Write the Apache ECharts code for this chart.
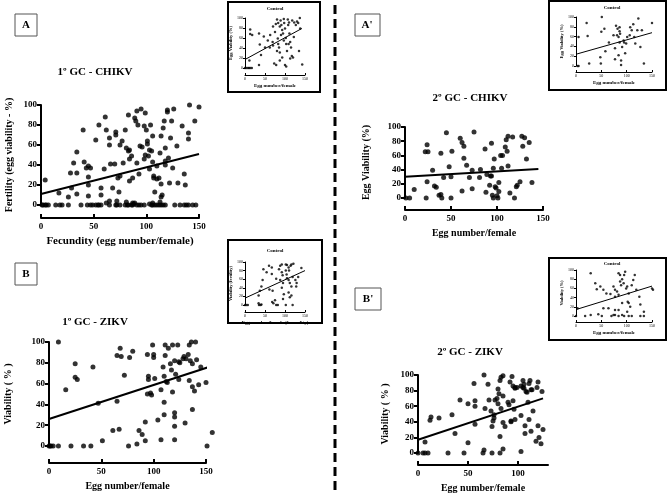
<!DOCTYPE html>
<html><head><meta charset="utf-8">
<script src="https://cdn.jsdelivr.net/npm/echarts@6/dist/echarts.min.js"></script>
<style>html,body{margin:0;padding:0;background:#fff}#c{width:669px;height:493px}</style>
</head><body><div id="c"></div>
<script>
// ---------- DATA ----------
const xTicks150 = [0, 50, 100, 150];
const xTicks100 = [0, 50, 100];

const chikv1Points = [
[1,0],[2,0],[4,0],[5,0],[7,0],[14,0],[18,0],[20,0],[26,0],[38,0],[44,0],[47,0],[49,0],[52,0],[54,0],[55,0],[57,0],[65,0],[71,0],[72,0],[75,0],[80,0],[82,0],[83,0],[86,0],[87,0],[91,0],[93,0],[95,0],[98,0],[105,0],[106,0],[108,0],[110,0],[112,0],[114,0],[116,0],[118,0],[127,0],[132,0],[136,0],[138,0],[140,0],[144,0],[147,0],
[65,4],[72,4],[81,3],[87,2],[89,2],[106,2],[113,3],[114,8],[115,10],[62,2],[88,1],[103,1],
[4,25],[17,12],[26,8],[29,17],[28,32],[31,42],[34,32],[34,53],[34,11],[40,75],[41,43],[43,37],[45,39],[47,37],[45,28],[45,20],[45,9],[52,65],[55,80],[57,17],[57,10],[60,36],[61,88],[62,75],[65,67],[65,60],[66,41],[68,17],[70,41],[71,73],[71,70],[73,27],[74,13],[75,29],[75,60],[77,64],[78,42],[80,75],[81,57],[83,54],[84,55],[83,90],[84,46],[84,24],[86,49],[87,27],[89,87],[90,84],[91,94],[91,42],[92,80],[93,31],[94,59],[95,96],[96,58],[98,79],[98,46],[99,50],[99,92],[100,75],[101,61],[101,64],[102,49],[103,55],[103,36],[104,80],[105,54],[106,69],[106,43],[107,29],[107,27],[108,13],[110,39],[110,26],[112,27],[113,52],[114,69],[114,21],[116,77],[117,84],[118,57],[118,40],[118,44],[120,95],[120,93],[121,47],[122,22],[123,67],[124,84],[125,37],[126,96],[129,59],[130,22],[134,79],[136,31],[137,20],[140,72],[140,66],[141,100],[146,84],[150,98]
];
const chikv1Trend = [[0,11],[150,51]];

const chikv1Control = [
[0,0],[3,0],[7,0],[10,0],[13,0],[17,0],[11,15],[13,77],[13,68],[18,66],[35,69],[40,26],[35,6],[47,63],[63,66],[69,52],[70,45],[75,72],[73,9],[78,6],[80,34],[82,59],[83,48],[85,41],[87,31],[80,97],[83,90],[87,83],[89,95],[91,86],[93,76],[95,69],[90,66],[97,98],[98,90],[100,79],[102,60],[103,48],[105,34],[100,6],[103,3],[107,97],[108,86],[110,91],[111,69],[113,52],[115,41],[117,24],[120,21],[113,19],[118,95],[123,91],[127,86],[130,93],[133,90],[137,100],[138,79],[135,34],[143,7],[122,62],[109,48],[97,55],[77,88],[70,83],[87,15],[57,55],[62,41],[50,41],[37,47],[93,21]
];
const chikv1ControlTrend = [[0,17],[142,79]];

const chikv2Points = [
[1,0],[5,0],[10,12],[23,0],[24,23],[22,65],[25,65],[24,75],[30,39],[32,17],[34,15],[37,4],[39,5],[40,0],[39,63],[42,29],[48,44],[50,30],[50,0],[51,66],[60,84],[62,78],[62,10],[64,73],[64,56],[67,46],[70,29],[73,39],[73,13],[81,29],[82,40],[87,69],[88,8],[89,33],[92,18],[93,31],[94,31],[94,77],[95,4],[96,0],[96,42],[97,55],[98,16],[99,14],[100,3],[101,0],[102,9],[102,22],[104,60],[105,42],[106,60],[109,72],[110,82],[111,66],[112,45],[112,87],[114,7],[117,86],[119,0],[121,16],[122,18],[125,23],[127,87],[128,73],[45,92],[75,93],[130,85],[135,78],[138,22],[132,55]
];
const chikv2Trend = [[0,30],[145,41]];

const chikv2Control = [
[3,0],[5,0],[5,59],[21,88],[23,61],[26,5],[48,18],[49,5],[50,70],[51,100],[56,76],[58,30],[65,48],[77,36],[79,82],[81,63],[82,76],[84,59],[86,48],[86,79],[86,71],[87,66],[89,2],[89,11],[91,39],[94,52],[95,48],[97,26],[99,46],[101,59],[106,63],[107,79],[110,73],[113,85],[115,59],[117,46],[121,73],[123,97],[127,39],[130,73],[134,5],[150,88],[77,14],[84,22],[74,63]
];
const chikv2ControlTrend = [[0,24],[150,68]];

const zikv1Points = [
[0,0],[1,0],[2,0],[4,0],[9,0],[21,0],[33,0],[40,0],[76,0],[9,100],[16,54],[25,79],[25,66],[27,64],[42,76],[47,41],[51,5],[61,15],[65,43],[65,87],[67,16],[68,94],[69,86],[72,68],[77,85],[80,91],[84,2],[86,15],[89,11],[92,23],[92,5],[94,50],[94,88],[95,67],[95,64],[97,51],[98,49],[99,97],[100,88],[100,85],[101,65],[104,25],[107,6],[107,54],[109,76],[110,42],[110,30],[110,67],[111,87],[111,97],[112,62],[113,61],[114,94],[116,79],[117,73],[118,52],[118,97],[120,82],[120,32],[120,6],[120,19],[120,28],[121,69],[123,97],[124,81],[124,64],[125,80],[128,84],[129,86],[130,22],[131,84],[133,88],[134,97],[134,63],[135,82],[136,100],[137,35],[137,79],[137,57],[139,53],[140,100],[141,83],[143,59],[145,76],[150,61],[156,13],[151,0]
];
const zikv1Trend = [[0,26],[156,77]];

const zikv1Control = [
[0,0],[3,0],[7,0],[34,4],[35,0],[39,0],[41,1],[34,22],[37,33],[41,43],[44,58],[46,83],[54,76],[60,91],[67,87],[61,36],[69,33],[68,7],[71,4],[75,11],[78,0],[82,0],[78,61],[85,83],[88,91],[92,94],[92,76],[94,69],[95,14],[97,25],[88,58],[102,94],[105,93],[109,87],[110,80],[114,91],[116,94],[121,96],[102,80],[104,71],[105,62],[109,58],[112,51],[116,43],[119,65],[126,58],[129,51],[128,43],[133,65],[141,86],[109,29],[112,18],[116,22],[119,0],[102,0],[95,51],[92,40],[67,72]
];
const zikv1ControlTrend = [[0,16],[150,80]];

const zikv2Points = [
[0,0],[5,0],[7,0],[10,0],[7,14],[12,42],[13,46],[21,45],[30,0],[34,49],[37,25],[42,68],[46,0],[50,63],[50,13],[56,89],[57,67],[57,60],[57,37],[66,100],[65,0],[66,4],[67,57],[70,88],[71,68],[73,54],[74,34],[74,0],[75,41],[76,45],[76,49],[77,68],[79,70],[80,63],[80,82],[81,76],[82,21],[82,0],[82,93],[83,57],[83,97],[85,73],[85,5],[85,99],[85,39],[87,34],[90,65],[91,62],[93,40],[93,41],[94,98],[95,86],[95,67],[96,56],[97,43],[97,83],[99,84],[103,2],[103,48],[103,86],[105,84],[106,83],[106,88],[107,35],[107,25],[108,79],[109,78],[110,65],[111,43],[112,93],[113,28],[113,81],[114,81],[115,54],[118,15],[92,91],[97,84],[105,93],[111,89],[120,91],[124,79],[119,84],[121,20],[123,12],[125,30],[120,35]
];
const zikv2Trend = [[0,17],[125,70]];

const zikv2Control = [
[0,0],[18,0],[29,2],[44,4],[51,0],[70,0],[74,2],[77,2],[84,0],[91,2],[95,0],[101,9],[104,0],[110,0],[127,0],[134,0],[3,17],[29,93],[38,71],[41,58],[48,64],[54,57],[60,49],[68,48],[74,64],[77,57],[81,53],[77,42],[84,46],[87,75],[89,67],[91,80],[94,71],[95,89],[97,96],[99,60],[101,64],[104,49],[102,31],[104,28],[107,20],[110,67],[113,78],[116,89],[119,57],[125,42],[127,25],[134,9],[150,60],[152,57],[77,13],[84,13],[91,28],[64,17],[54,17],[84,93],[87,89]
];
const zikv2ControlTrend = [[0,14],[150,65]];

// ---------- CHART ----------
const SERIF = 'Liberation Serif';
const chart = echarts.init(document.getElementById('c'), null, {renderer: 'canvas'});

function mainX(gi, max, ticks, name, offset, nameSize) {
  return {
    gridIndex: gi, type: 'value', min: 0, max: max, interval: 50, offset: offset,
    name: name, nameLocation: 'middle', nameGap: 18,
    nameTextStyle: {fontFamily: SERIF, fontWeight: 'bold', fontSize: nameSize, color: '#000'},
    axisLine: {onZero: false, lineStyle: {color: '#000', width: 2}},
    axisTick: {customValues: ticks, length: 4, inside: true, lineStyle: {color: '#000', width: 2}},
    axisLabel: {customValues: ticks, fontFamily: SERIF, fontWeight: 'bold', fontSize: 9, color: '#000', margin: 4},
    splitLine: {show: false}
  };
}
function mainY(gi, name, gap) {
  return {
    gridIndex: gi, type: 'value', min: 0, max: 100, interval: 20,
    name: name, nameLocation: 'middle', nameGap: gap, nameRotate: 90,
    nameTextStyle: {fontFamily: SERIF, fontWeight: 'bold', fontSize: 10, color: '#000'},
    axisLine: {onZero: false, lineStyle: {color: '#000', width: 2}},
    axisTick: {length: 4, lineStyle: {color: '#000', width: 2}},
    axisLabel: {fontFamily: SERIF, fontWeight: 'bold', fontSize: 9, color: '#000', margin: 4},
    splitLine: {show: false}
  };
}
function insetX(gi, name, offset) {
  return {
    gridIndex: gi, type: 'value', min: 0, max: 150, interval: 50, offset: offset,
    name: name, nameLocation: 'middle', nameGap: 8,
    nameTextStyle: {fontFamily: SERIF, fontWeight: 'bold', fontSize: 5, color: '#000'},
    axisLine: {onZero: false, lineStyle: {color: '#000', width: 1}},
    axisTick: {length: 2, inside: true, lineStyle: {color: '#000', width: 1}},
    axisLabel: {fontFamily: SERIF, fontSize: 4, color: '#000', margin: 2},
    splitLine: {show: false}
  };
}
function insetY(gi, name) {
  return {
    gridIndex: gi, type: 'value', min: 0, max: 100, interval: 20,
    name: name, nameLocation: 'middle', nameGap: 9, nameRotate: 90,
    nameTextStyle: {fontFamily: SERIF, fontWeight: 'bold', fontSize: 4.5, color: '#000'},
    axisLine: {onZero: false, lineStyle: {color: '#000', width: 1}},
    axisTick: {length: 2, lineStyle: {color: '#000', width: 1}},
    axisLabel: {fontFamily: SERIF, fontSize: 4, color: '#000', margin: 2},
    splitLine: {show: false}
  };
}
function pts(i, data, size) {
  return {type: 'scatter', xAxisIndex: i, yAxisIndex: i, data: data, symbolSize: size,
    itemStyle: {color: '#000'}, clip: false, silent: true, animation: false};
}
function trend(i, data, w) {
  return {type: 'line', xAxisIndex: i, yAxisIndex: i, data: data, symbol: 'none',
    lineStyle: {color: '#000', width: w}, clip: false, silent: true, animation: false};
}
function grid(l, t, w, h) {
  return {left: l, top: t, width: w, height: h, containLabel: false, outerBoundsMode: 'none'};
}
function label(x, y, txt, size) {
  return {type: 'text', x: x, y: y, style: {text: txt, fontFamily: SERIF, fontWeight: 'bold', fontSize: size, fill: '#000', align: 'center', verticalAlign: 'middle'}};
}
function frame(x, y, w, h, lw, col) {
  return {type: 'rect', shape: {x: x, y: y, width: w, height: h}, style: {fill: 'none', stroke: col, lineWidth: lw}};
}

const option = {
  backgroundColor: '#fff',
  animation: false,
  grid: [
    grid(41, 105, 158, 100),   // 0 A
    grid(405, 127, 138, 71),   // 1 A'
    grid(49, 342, 157, 104),   // 2 B
    grid(418, 375, 130, 78),   // 3 B'
    grid(245, 18, 60, 50),     // 4 inset A
    grid(576, 17, 76, 49),     // 5 inset A'
    grid(245, 262, 60, 43),    // 6 inset B
    grid(576, 270, 76, 46)     // 7 inset B'
  ],
  xAxis: [
    mainX(0, 150, xTicks150, 'Fecundity (egg number/female)', 13, 11),
    mainX(1, 150, xTicks150, 'Egg number/female', 12, 10),
    mainX(2, 150, xTicks150, 'Egg number/female', 17, 10),
    mainX(3, 130, xTicks100, 'Egg number/female', 12, 10),
    insetX(4, 'Egg number/female', 7),
    insetX(5, 'Egg number/female', 6),
    insetX(6, 'Egg number/female (fecundity)', 7),
    insetX(7, 'Egg number/female', 6)
  ],
  yAxis: [
    mainY(0, 'Fertility (egg viability - %)', 27),
    mainY(1, 'Egg Viability (%)', 34),
    mainY(2, 'Viability ( % )', 36),
    mainY(3, 'Viability ( % )', 28),
    insetY(4, 'Egg Viability (%)'),
    insetY(5, 'Egg Viability (%)'),
    insetY(6, 'Viability (fertility)'),
    insetY(7, 'Viability (%)')
  ],
  series: [
    pts(0, chikv1Points, 5), trend(0, chikv1Trend, 2),
    pts(1, chikv2Points, 5), trend(1, chikv2Trend, 2),
    pts(2, zikv1Points, 5), trend(2, zikv1Trend, 2),
    pts(3, zikv2Points, 5), trend(3, zikv2Trend, 2),
    pts(4, chikv1Control, 2.5), trend(4, chikv1ControlTrend, 1),
    pts(5, chikv2Control, 2.5), trend(5, chikv2ControlTrend, 1),
    pts(6, zikv1Control, 2.5), trend(6, zikv1ControlTrend, 1),
    pts(7, zikv2Control, 2.5), trend(7, zikv2ControlTrend, 1)
  ],
  graphic: [
    {type: 'line', shape: {x1: 335, y1: 5, x2: 335, y2: 490}, style: {stroke: '#000', lineWidth: 3, lineDash: [9, 5]}},
    frame(15, 14, 22, 22, 1, '#555'), label(26, 25, 'A', 11),
    frame(355, 14, 25, 22, 1, '#555'), label(367, 25, "A'", 11),
    frame(15, 263, 22, 22, 1, '#555'), label(26, 274, 'B', 11),
    frame(355, 288, 26, 22, 1, '#555'), label(368, 299, "B'", 11),
    label(95, 72, '1º GC - CHIKV', 11),
    label(470, 98, '2º GC - CHIKV', 11),
    label(95, 322, '1º GC - ZIKV', 11),
    label(470, 352, '2º GC - ZIKV', 11),
    frame(228, 2, 92, 90, 2, '#000'),
    frame(549, 1, 117, 89, 2, '#000'),
    frame(228, 240, 94, 83, 2, '#000'),
    frame(549, 258, 117, 82, 2, '#000'),
    label(275, 9, 'Control', 5),
    label(612, 8, 'Control', 5),
    label(275, 251, 'Control', 5),
    label(612, 264, 'Control', 5)
  ]
};
chart.setOption(option);
</script>
</body></html>
